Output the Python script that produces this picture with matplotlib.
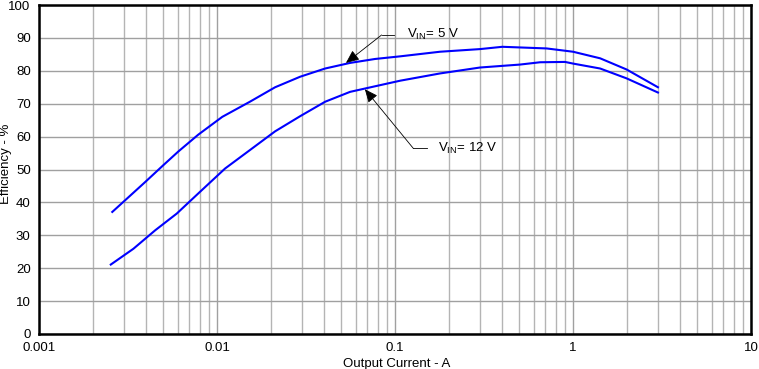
import matplotlib
matplotlib.use("Agg")
import matplotlib.pyplot as plt
from matplotlib.ticker import LogLocator, NullFormatter

plt.rcParams['font.family'] = ['Liberation Sans', 'DejaVu Sans']

# Data
i_5v = [0.00258, 0.00395, 0.00499, 0.00607, 0.00785, 0.0107, 0.0153, 0.0212,
        0.0293, 0.0405, 0.0559, 0.0773, 0.107, 0.179, 0.300, 0.401, 0.711,
        1.0, 1.42, 2.0, 3.0]
eff_5v = [37.1, 46.2, 51.3, 55.5, 60.6, 66.0, 70.6, 75.0,
          78.2, 80.7, 82.4, 83.6, 84.4, 85.8, 86.6, 87.3, 86.8,
          85.8, 83.8, 80.4, 75.0]

i_12v = [0.00253, 0.00339, 0.00449, 0.00594, 0.00802, 0.0111, 0.0153, 0.0212,
         0.0293, 0.0405, 0.0559, 0.0773, 0.107, 0.179, 0.300, 0.504, 0.653,
         0.902, 1.0, 1.42, 2.0, 3.0]
eff_12v = [21.1, 25.9, 31.5, 36.6, 43.2, 50.3, 55.9, 61.6,
           66.2, 70.6, 73.6, 75.3, 77.0, 79.2, 81.0, 81.9, 82.6,
           82.7, 82.2, 80.7, 77.7, 73.4]

x_ticks = [0.001, 0.01, 0.1, 1, 10]
x_tick_labels = ['0.001', '0.01', '0.1', '1', '10']
y_ticks = list(range(0, 101, 10))

fig = plt.figure(figsize=(7.59, 3.69), dpi=100)
ax = fig.add_axes([0.0514, 0.0949, 0.9381, 0.8915])

ax.plot(i_5v, eff_5v, color='#0000ff', lw=1.5, zorder=3)
ax.plot(i_12v, eff_12v, color='#0000ff', lw=1.5, zorder=3)

ax.set_xscale('log')
ax.set_xlim(0.001, 10)
ax.set_ylim(0, 100)
ax.set_xticks(x_ticks)
ax.set_xticklabels(x_tick_labels)
ax.xaxis.set_minor_locator(LogLocator(base=10, subs=range(2, 10)))
ax.xaxis.set_minor_formatter(NullFormatter())
ax.set_yticks(y_ticks)

ax.grid(which='major', axis='both', color='#a0a0a0', lw=1.0, zorder=0)
ax.grid(which='minor', axis='x', color='#b4b4b4', lw=1.0, zorder=0)
ax.set_axisbelow(True)

ax.tick_params(which='both', length=0, labelsize=9.5)
ax.tick_params(axis='y', pad=6)
ax.tick_params(axis='x', pad=6)
for s in ax.spines.values():
    s.set_color('black')
    s.set_linewidth(1.8)

ax.set_xlabel('Output Current - A', fontsize=9.5)
ax.xaxis.set_label_coords(0.503, -0.072)
ax.set_ylabel('Efficiency - %', fontsize=9.5)
ax.yaxis.set_label_coords(-0.038, 0.518)

# Annotations
arrowprops = dict(arrowstyle='-|>,head_length=0.8,head_width=0.35', color='black',
                  lw=0.6, shrinkA=0, shrinkB=0)
# 5 V
ax.plot([0.0841, 0.0991], [90.9, 90.9], color='black', lw=0.6, zorder=4)
ax.annotate('', xy=(0.0530, 82.4), xytext=(0.0841, 90.9), arrowprops=arrowprops, zorder=4)
ax.text(0.1164, 91.2, r'$\mathregular{V_{IN}}$= 5 V', fontsize=9.5, va='center', ha='left')
# 12 V
ax.plot([0.1268, 0.1507], [56.4, 56.4], color='black', lw=0.6, zorder=4)
ax.annotate('', xy=(0.0677, 74.4), xytext=(0.1268, 56.4), arrowprops=arrowprops, zorder=4)
ax.text(0.1746, 56.5, r'$\mathregular{V_{IN}}$= 12 V', fontsize=9.5, va='center', ha='left')

fig.savefig('out.png', dpi=100)
